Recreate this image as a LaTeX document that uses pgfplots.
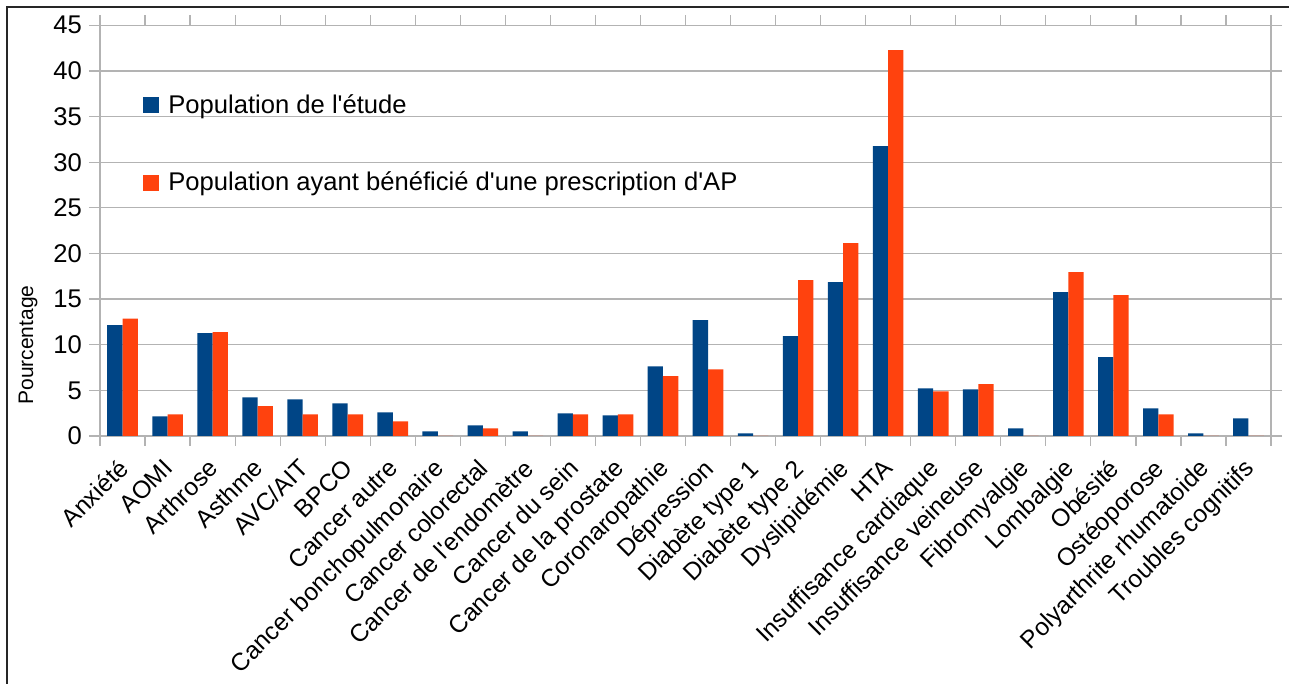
\documentclass[border=0pt]{standalone}
\usepackage{fontspec}
\setmainfont{Liberation Sans}
\usepackage{pgfplots}
\pgfplotsset{compat=1.18}
\usepackage{pgfplotstable}
\definecolor{cblue}{HTML}{004586}
\definecolor{corange}{HTML}{FF420E}
\definecolor{cgrid}{HTML}{B3B3B3}

\pgfplotstableread{
x b o
0 12.14 12.87
1 2.16 2.38
2 11.26 11.37
3 4.24 3.26
4 4.02 2.38
5 3.58 2.38
6 2.60 1.61
7 0.52 0
8 1.17 0.84
9 0.52 0
10 2.49 2.38
11 2.27 2.38
12 7.64 6.55
13 12.69 7.31
14 0.30 0
15 10.93 17.07
16 16.85 21.12
17 31.77 42.29
18 5.23 4.90
19 5.12 5.67
20 0.84 0
21 15.76 17.95
22 8.63 15.43
23 3.04 2.38
24 0.30 0
25 1.94 0
}\data

\begin{document}
\begin{tikzpicture}
\useasboundingbox (0,0) rectangle (644.5pt,342pt);
\draw[line width=0.7pt, black!85] (3.5pt,0) -- (3.5pt,338.5pt) -- (644.5pt,338.5pt);
\begin{axis}[
 at={(50pt,124pt)}, anchor=south west, scale only axis,
 width=585.5pt, height=205.35pt,
 xmin=-0.5, xmax=25.5, ymin=0, ymax=45,
 ytick={0,5,...,45},
 xtick={0,...,25},
 xticklabels={Anxiété, AOMI, Arthrose, Asthme, AVC/AIT, BPCO, Cancer autre, Cancer bonchopulmonaire, Cancer colorectal, Cancer de l\textquotesingle endomètre, Cancer du sein, Cancer de la prostate, Coronaropathie, Dépression, Diabète type 1, Diabète type 2, Dyslipidémie, HTA, Insuffisance cardiaque, Insuffisance veineuse, Fibromyalgie, Lombalgie, Obésité, Ostéoporose, Polyarthrite rhumatoide, Troubles cognitifs},
 minor xtick={-0.5,0.5,...,25.5},
 ybar=0pt, bar width=7.65pt,
 axis line style={cgrid, line width=0.6pt},
 ymajorgrids, grid style={cgrid, line width=0.6pt},
 tick align=outside, major tick length=5.5pt, minor tick length=5pt,
 major x tick style={draw=none},
 minor x tick style={cgrid, line width=0.6pt},
 major y tick style={cgrid, line width=0.6pt},
 /pgf/number format/assume math mode=true,
 yticklabel style={font=\fontsize{12.8}{15}\selectfont},
 xticklabel style={font=\fontsize{12.3}{14}\selectfont, xshift=-2.8pt, yshift=-5pt, rotate=45, anchor=north east, inner sep=0pt},
 ylabel={Pourcentage},
 ylabel style={font=\fontsize{10.5}{12}\selectfont, at={(axis description cs:-0.0615,0.2216)}, anchor=center},
 legend style={at={(axis description cs:0.0367,0.843)}, anchor=north west, draw=none, fill=none,
   font=\fontsize{12.8}{15}\selectfont, row sep=24pt, inner sep=0pt,
   /tikz/every odd column/.append style={column sep=2.5pt}},
 legend cell align=left,
 legend image code/.code={\fill[#1,draw=none] (0pt,-4pt) rectangle (8pt,4pt);},
]
\addplot[fill=cblue, draw=none] table[x=x, y=b] {\data};
\addplot[fill=corange, draw=none] table[x=x, y=o] {\data};
\legend{Population de l\textquotesingle étude, Population ayant bénéficié d\textquotesingle une prescription d\textquotesingle AP}
\end{axis}
\end{tikzpicture}
\end{document}
